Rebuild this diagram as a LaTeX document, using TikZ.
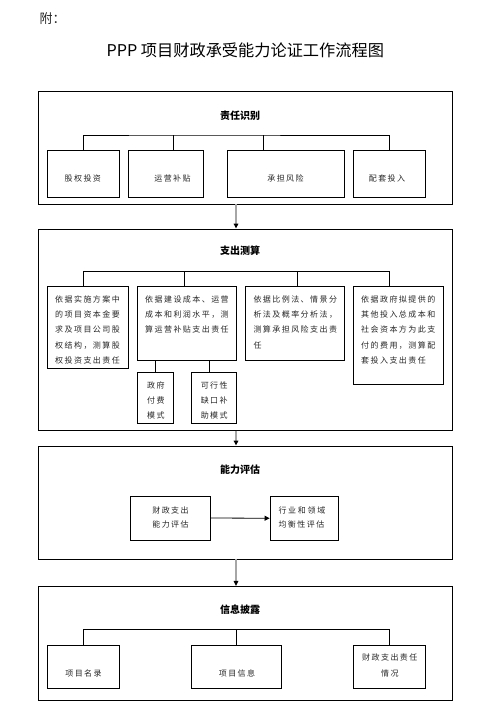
\documentclass[tikz,border=0pt]{standalone}
\usepackage{fontspec}
\setmainfont{Noto Sans CJK SC}
\newfontfamily\cjk[LetterSpace=18]{Noto Sans CJK SC}
\usetikzlibrary{arrows.meta,fit,calc}
\begin{document}
\begin{tikzpicture}[x=1pt,y=-1pt,
  box/.style={draw, line width=0.8pt, inner sep=0pt},
  txt/.style={inner sep=0pt, text=black!85, font=\cjk\fontsize{8}{15.33}\selectfont},
  txtl/.style={txt, align=left, anchor=base west},
  txtc/.style={txt, align=center, anchor=base},
  sectitle/.style={inner sep=0pt, font=\bfseries\fontsize{10}{12}\selectfont},
  link/.style={line width=0.8pt},
  flow/.style={line width=1.5pt, draw=black!35, -{Triangle[length=5pt,width=4.5pt,black]}}]
\useasboundingbox (0,0) rectangle (492,721);

% headings
\node[inner sep=0pt, anchor=west, font=\fontsize{13}{15}\selectfont, text=black!85] (fu) at (39.3,19) {附：};
\node[inner sep=0pt, font=\fontsize{16.2}{20}\selectfont] (title) at (245.3,50) {PPP 项目财政承受能力论证工作流程图};

% section boxes
\node[box, fit={(38.3,91)(452.7,204)}] (s1) {};
\node[box, fit={(38.3,229)(452.7,430.3)}] (s2) {};
\node[box, fit={(38.3,446)(452.7,559)}] (s3) {};
\node[box, fit={(38.3,586.3)(452.7,700.3)}] (s4) {};

\node[sectitle] (t1) at (240,115.7) {责任识别};
\node[sectitle] (t2) at (240,251) {支出测算};
\node[sectitle] (t3) at (240,469.3) {能力评估};
\node[sectitle] (t4) at (240,610) {信息披露};

% flow arrows
\coordinate (ax) at (236,0);
\draw[flow] (s1.south -| ax) -- (s2.north -| ax);
\draw[flow] (s2.south -| ax) -- (s3.north -| ax);
\draw[flow] (s3.south -| ax) -- (s4.north -| ax);

% ---- section 1
\node[box, fit={(47.3,150.3)(119.3,197.3)}] (b11) {};
\node[box, fit={(128.3,150.3)(203.3,197.3)}] (b12) {};
\node[box, fit={(227.7,150.3)(344.3,197.3)}] (b13) {};
\node[box, fit={(353.3,150.3)(425.7,197.3)}] (b14) {};
\coordinate (d12) at (173.3,135);
\coordinate (d13) at (263.3,135);
\draw[link] (b11.north) |- (d12) -| (b14.north);
\draw[link] (d12) -- (b12.north -| d12);
\draw[link] (d13) -- (b13.north -| d13);
\node[txt] (x11) at (82.8,178.3) {股权投资};
\node[txt] (x12) at (172.5,178.3) {运营补贴};
\node[txt] (x13) at (285.5,178.3) {承担风险};
\node[txt] (x14) at (387,178.3) {配套投入};

% ---- section 2
\node[box, fit={(47.3,286.3)(128.7,368.3)}] (b21) {};
\node[box, fit={(137.3,286.3)(236.7,360.3)}] (b22) {};
\node[box, fit={(245.3,286.3)(344.3,360.3)}] (b23) {};
\node[box, fit={(353.3,286.3)(443.3,384.3)}] (b24) {};
\coordinate (e21) at (83.3,271.7);
\coordinate (e22) at (184.3,271.7);
\coordinate (e23) at (297.3,271.7);
\coordinate (e24) at (389.3,271.7);
\draw[link] (b21.north -| e21) -- (e21) -- (e24) -- (b24.north -| e24);
\draw[link] (e22) -- (b22.north -| e22);
\draw[link] (e23) -- (b23.north -| e23);
% anchor = baseline of the last line
\node[txtl] (x21) at (55,363.4) {依据实施方案中\\的项目资本金要\\求及项目公司股\\权结构，测算股\\权投资支出责任};
\node[txtl] (x22) at (145,332.7) {依据建设成本、运营\\成本和利润水平，测\\算运营补贴支出责任};
\node[txtl] (x23) at (253.3,348) {依据比例法、情景分\\析法及概率分析法，\\测算承担风险支出责\\任};
\node[txtl] (x24) at (361,363.4) {依据政府拟提供的\\其他投入总成本和\\社会资本方为此支\\付的费用，测算配\\套投入支出责任};

\node[box, fit={(137.3,372.3)(173.3,423.5)}] (c1) {};
\node[box, fit={(191.7,372.3)(236.7,423.5)}] (c2) {};
\coordinate (f1) at (155.3,0);
\coordinate (f2) at (209.3,0);
\draw[link] (b22.south -| f1) -- (c1.north -| f1);
\draw[link] (b22.south -| f2) -- (c2.north -| f2);
\node[txtc, font=\cjk\fontsize{8}{15}\selectfont] (y1) at (155.8,418) {政府\\付费\\模式};
\node[txtc, font=\cjk\fontsize{8}{15}\selectfont] (y2) at (214.2,418) {可行性\\缺口补\\助模式};

% ---- section 3
\node[box, fit={(130,496)(210,540)}] (g1) {};
\node[box, fit={(270,496)(338.3,540.5)}] (g2) {};
\draw[link, -{Triangle[length=5pt,width=5pt]}] (g1.east) -- (g2.west);
\node[txtc, font=\cjk\fontsize{8}{14.3}\selectfont] (z1) at (170.5,527.3) {财政支出\\能力评估};
\node[txtl, font=\cjk\fontsize{8}{14.3}\selectfont] (z2) at (278.3,527.3) {行\hspace{1.7pt}业\hspace{1.7pt}和\hspace{1.7pt}领\hspace{1.7pt}域\\均衡性评估};

% ---- section 4
\node[box, fit={(47.3,645.3)(119.3,688.3)}] (h1) {};
\node[box, fit={(191.7,645.3)(281.7,688.3)}] (h2) {};
\node[box, fit={(353.3,645.3)(425.7,688.3)}] (h3) {};
\coordinate (k2) at (236,629.3);
\draw[link] (h1.north) |- (k2) -| (h3.north);
\draw[link] (k2) -- (h2.north -| k2);
\node[txt] (w1) at (83.5,673.3) {项目名录};
\node[txt] (w2) at (237,673.3) {项目信息};
\node[txtc, font=\cjk\fontsize{8}{16}\selectfont] (w3) at (389.8,676.7) {财政支出责任\\情况};
\end{tikzpicture}
\end{document}
